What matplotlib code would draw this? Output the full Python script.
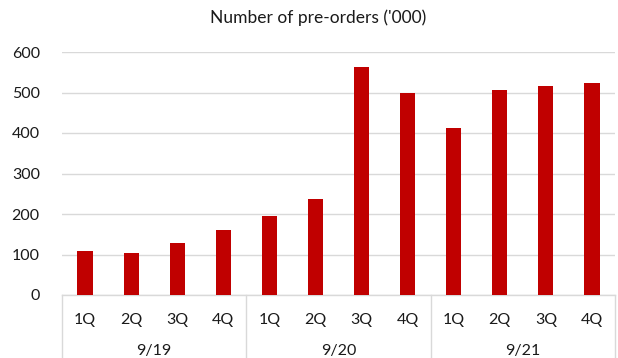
import matplotlib
matplotlib.use("Agg")
import matplotlib.pyplot as plt

plt.rcParams['font.family'] = ['Lato', 'DejaVu Sans']

quarters = ['1Q', '2Q', '3Q', '4Q'] * 3
years = ['9/19', '9/20', '9/21']
preorders = [108, 104, 128, 160, 195, 237, 562, 499, 413, 507, 516, 524]

bar_color = '#C00000'
grid_color = '#D9D9D9'
text_color = '#1a1a1a'

fig = plt.figure(figsize=(6.18, 3.58), dpi=100)
ax = fig.add_axes([62 / 618, 63 / 358, 553 / 618, 243 / 358])

x = list(range(len(preorders)))
ax.bar(x, preorders, width=0.33, color=bar_color, zorder=3)

ax.set_xlim(-0.5, len(preorders) - 0.5)
ax.set_ylim(0, 600)
ax.set_yticks(range(0, 601, 100))
ax.tick_params(axis='y', length=0, pad=16, labelsize=11.5, labelcolor=text_color)
ax.set_xticks([])
ax.grid(axis='y', color=grid_color, linewidth=1, zorder=0)
for side in ['top', 'right', 'left', 'bottom']:
    ax.spines[side].set_visible(False)

# multi-level category axis
trans = ax.get_xaxis_transform()
ax.plot([-0.5, len(preorders) - 0.5], [0, 0], color=grid_color, lw=1,
        transform=trans, clip_on=False, zorder=2)
for b in [-0.5, 3.5, 7.5, 11.5]:
    ax.plot([b, b], [0, -0.3], color=grid_color, lw=1,
            transform=trans, clip_on=False)

for i, q in enumerate(quarters):
    ax.annotate(q, (i, 0), xycoords=trans, xytext=(0, -25),
                textcoords='offset pixels', ha='center', va='center',
                fontsize=11.5, color=text_color)
for j, yr in enumerate(years):
    ax.annotate(yr, (4 * j + 1.5, 0), xycoords=trans, xytext=(0, -56),
                textcoords='offset pixels', ha='center', va='center',
                fontsize=11.5, color=text_color)

fig.text(318 / 618, 1 - 18 / 358, "Number of pre-orders ('000)",
         ha='center', va='center', fontsize=12.5, color=text_color)

fig.savefig('out.png', dpi=100)
